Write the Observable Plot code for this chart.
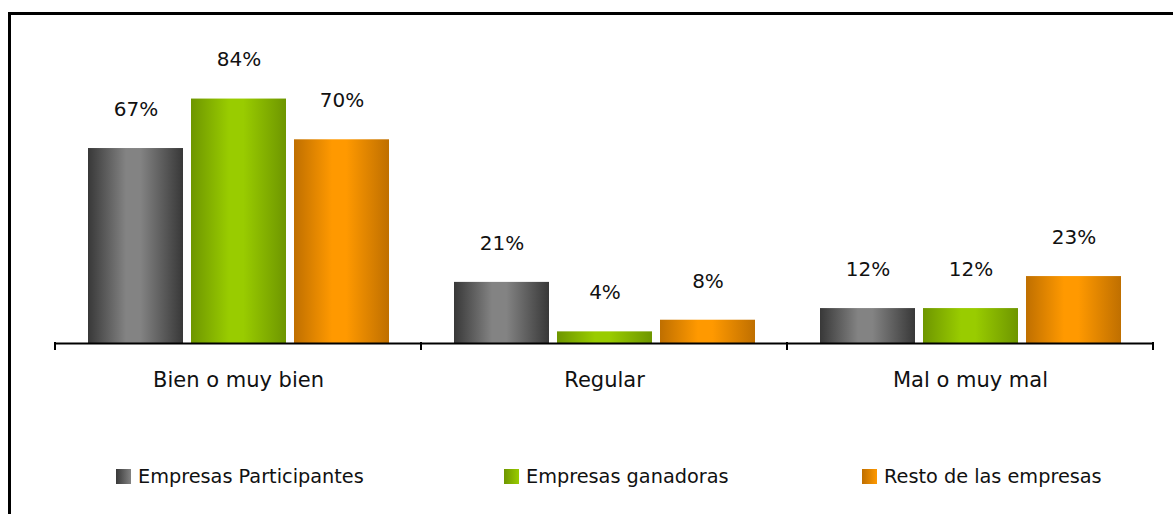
<!DOCTYPE html>
<html>
<head>
<meta charset="utf-8">
<script src="https://cdn.jsdelivr.net/npm/d3@7"></script>
<script src="https://cdn.jsdelivr.net/npm/@observablehq/plot@0.6"></script>
<style>
  html, body { margin: 0; padding: 0; background: #fff; overflow: hidden; width: 1173px; height: 514px; }
  #frame { position: absolute; left: 8px; top: 12px; width: 1300px; height: 700px; border-left: 3px solid #000; border-top: 3px solid #000; box-sizing: border-box; }
  #chart { position: absolute; left: 0; top: 0; }
  .leg { position: absolute; top: 465px; display: flex; align-items: center; font-family: "DejaVu Sans", sans-serif; font-size: 19.3px; color: #111; white-space: nowrap; }
  .leg .sw { width: 15px; height: 15px; margin-right: 7px; }
</style>
</head>
<body>
<div id="frame"></div>
<div id="chart"></div>
<div id="legend"></div>
<script>
// ---- data ----
const categories = ["Bien o muy bien", "Regular", "Mal o muy mal"];
const seriesNames = ["Empresas Participantes", "Empresas ganadoras", "Resto de las empresas"];
const participantes = [67, 21, 12];
const ganadoras = [84, 4, 12];
const resto = [70, 8, 23];
// ---- styles ----
const darkColors = ["#383838", "#6e9600", "#bf6f00"];
const lightColors = ["#838383", "#99cc00", "#ff9900"];
const legendLeft = [116, 504, 862];

const seriesValues = [participantes, ganadoras, resto];
const table = categories.flatMap((cat, i) =>
  seriesNames.map((s, j) => ({cat, series: s, value: seriesValues[j][i], grad: `url(#grad${j})`}))
);

const chart = Plot.plot({
  width: 1173,
  height: 420,
  marginTop: 52,
  marginBottom: 77,
  marginLeft: 55,
  marginRight: 20,
  facet: {data: table, x: "cat", marginTop: 52, marginBottom: 77, marginLeft: 55, marginRight: 20},
  fx: {domain: categories, paddingInner: 0, paddingOuter: 0, axis: null, label: null},
  x: {domain: seriesNames, paddingInner: 8 / 103, paddingOuter: 0.3155, axis: null, label: null},
  y: {domain: [0, 100], axis: null, label: null},
  color: {type: "identity"},
  style: {fontFamily: "DejaVu Sans, sans-serif", fontSize: "21px", color: "#111", background: "transparent", overflow: "visible"},
  marks: [
    Plot.barY(table, {x: "series", y: "value", fill: "grad"}),
    Plot.text(table, {x: "series", y: "value", text: d => d.value + "%", dy: -39,
      fontFamily: "DejaVu Sans, sans-serif", fontSize: 20, fill: "#111", ariaLabel: "value-labels"}),
    Plot.text(table, Plot.selectFirst({text: "cat", frameAnchor: "bottom", dy: 43, fontSize: 21, fill: "#111"})),
    Plot.ruleY([0], {stroke: "#000", strokeWidth: 2})
  ]
});

// gradients for the bars
const svg = d3.select(chart);
const defs = svg.insert("defs", ":first-child");
darkColors.forEach((dark, j) => {
  const g = defs.append("linearGradient").attr("id", `grad${j}`).attr("x1", 0).attr("x2", 1).attr("y1", 0).attr("y2", 0);
  g.append("stop").attr("offset", "0%").attr("stop-color", dark);
  g.append("stop").attr("offset", "40%").attr("stop-color", lightColors[j]);
  g.append("stop").attr("offset", "55%").attr("stop-color", lightColors[j]);
  g.append("stop").attr("offset", "100%").attr("stop-color", dark);
});

// tighter figures for the value labels
svg.selectAll('g[aria-label="value-labels"]').style("letter-spacing", "-1.2px");

// category boundary ticks derived from the fx scale
const fx = chart.scale("fx");
const ys = chart.scale("y");
const y0 = ys.apply(0);
const edges = categories.map(c => fx.apply(c));
edges.push(fx.apply(categories[categories.length - 1]) + fx.bandwidth);
svg.append("g").selectAll("line").data(edges).join("line")
  .attr("x1", d => d).attr("x2", d => d)
  .attr("y1", y0 - 1).attr("y2", y0 + 7)
  .attr("stroke", "#000").attr("stroke-width", 2);

document.getElementById("chart").appendChild(chart);

// legend
const legend = document.getElementById("legend");
seriesNames.forEach((name, j) => {
  const item = document.createElement("div");
  item.className = "leg";
  item.style.left = legendLeft[j] + "px";
  const sw = document.createElement("div");
  sw.className = "sw";
  sw.style.background = `linear-gradient(to right, ${darkColors[j]}, ${lightColors[j]})`;
  const label = document.createElement("span");
  label.textContent = name;
  item.appendChild(sw);
  item.appendChild(label);
  legend.appendChild(item);
});
</script>
</body>
</html>
